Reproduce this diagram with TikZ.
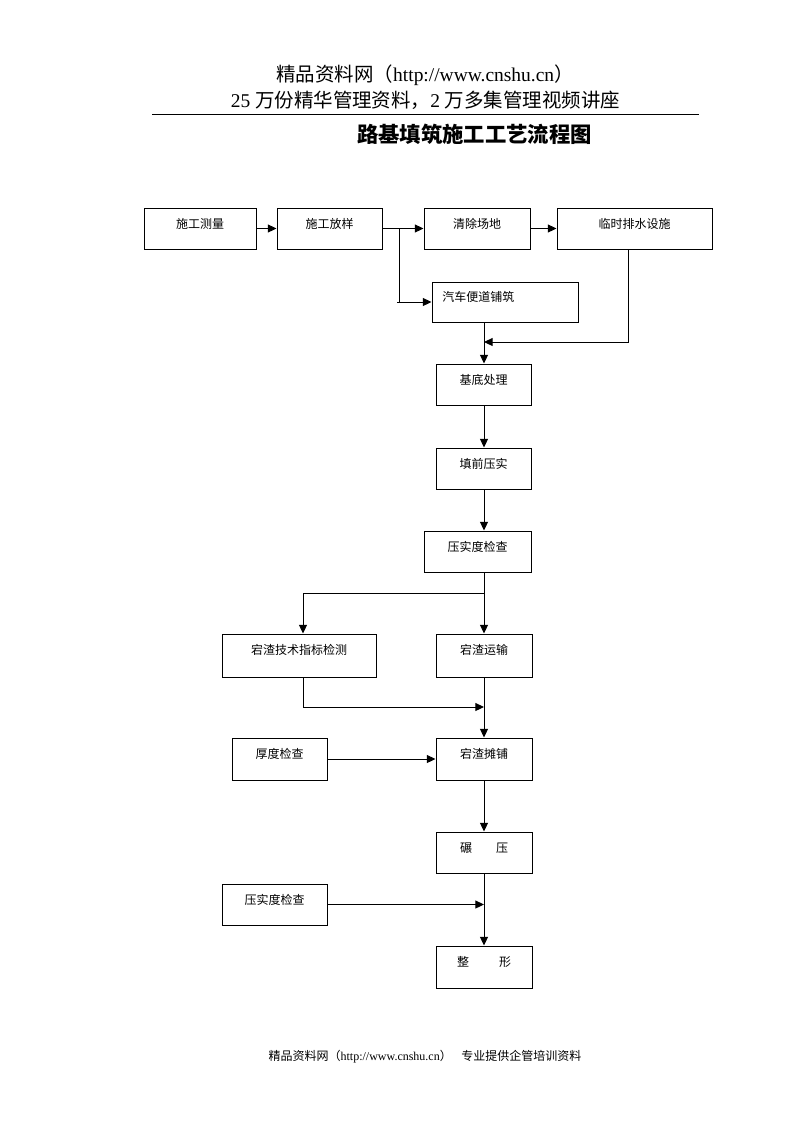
\documentclass[tikz,border=0pt]{standalone}
\usepackage{fontspec}
\setmainfont{Liberation Serif}
\newfontfamily\cjk{Noto Sans CJK SC}
\usetikzlibrary{arrows.meta}
\newcommand\flowbox[6]{%
  \node[box, minimum width={(#4-#2)*0.75pt}, minimum height={(#5-#3)*0.75pt}] (#1) at ({(#2+#4)/2},{(#3+#5)/2}) {};
  \node[lbl] (#1t) at ({(#2+#4)/2},{#3+16}) {#6};}
\begin{document}
\begin{tikzpicture}[x=0.75pt,y=-0.75pt,
  box/.style={draw, line width=0.75pt, inner sep=0pt},
  lbl/.style={font=\cjk\fontsize{9}{10}\selectfont, inner sep=0pt},
  arr/.style={line width=0.75pt, -{Triangle[length=6.5pt,width=6pt]}},
  ln/.style={line width=0.75pt}]
\useasboundingbox (0,0) rectangle (793,1122);

% header
\node[font=\fontsize{14.6}{16}\selectfont, inner sep=0pt] (h1) at (425,75) {{\cjk 精品资料网（}http://www.cnshu.cn{\cjk ）}};
\node[font=\fontsize{14.6}{16}\selectfont, inner sep=0pt] (h2) at (425.5,100) {25 {\cjk 万份精华管理资料，}2 {\cjk 万多集管理视频讲座}};
\coordinate (r1) at (152,114);
\coordinate (r2) at (699,114);
\draw[line width=0.75pt] (r1) -- (r2);
\node[font=\cjk\bfseries\fontsize{16}{18}\selectfont, inner sep=0pt] (title) at (474.5,134) {路基填筑施工工艺流程图};

% boxes
\flowbox{b1}{144}{208}{256}{249}{施工测量}
\flowbox{b2}{277}{208}{382}{249}{施工放样}
\flowbox{b3}{424}{208}{530}{249}{清除场地}
\flowbox{b4}{557}{208}{712}{249}{临时排水设施}
\node[box, minimum width={146*0.75pt}, minimum height={40*0.75pt}] (b5) at (505,302) {};
\node[lbl, anchor=west] (b5t) at (442,297) {汽车便道铺筑};
\flowbox{b6}{436}{364}{531}{405}{基底处理}
\flowbox{b7}{436}{448}{531}{489}{填前压实}
\flowbox{b8}{424}{531}{531}{572}{压实度检查}
\flowbox{b9}{222}{634}{376}{677}{宕渣技术指标检测}
\flowbox{b10}{436}{634}{532}{677}{宕渣运输}
\flowbox{b11}{232}{738}{327}{780}{厚度检查}
\flowbox{b12}{436}{738}{532}{780}{宕渣摊铺}
\flowbox{b13}{436}{832}{532}{873}{碾\hspace{2em}压}
\flowbox{b14}{222}{884}{327}{925}{压实度检查}
\flowbox{b15}{436}{946}{532}{988}{整\hspace{2.5em}形}

% helper coordinates
\coordinate (col) at (484,0);
\coordinate (j1) at (399,228.5);
\coordinate (s1) at (397,302);
\coordinate (d4) at (628,0);
\coordinate (m1) at (484,342);
\coordinate (j2) at (484,593);
\coordinate (d9) at (303,0);
\coordinate (m2) at (484,707);
\coordinate (m3) at (484,904.5);

% connectors
\draw[arr] (b1.east) -- (b2.west);
\draw[arr] (b2.east) -- (b3.west);
\draw[ln] (j1) -- (j1 |- s1);
\draw[arr] (s1) -- (b5.west);
\draw[arr] (b3.east) -- (b4.west);
\draw[arr] (b4.south -| d4) |- (m1);
\draw[arr] (b5.south -| col) -- (b6.north -| col);
\draw[arr] (b6.south -| col) -- (b7.north -| col);
\draw[arr] (b7.south -| col) -- (b8.north -| col);
\draw[arr] (b8.south -| col) -- (b10.north -| col);
\draw[arr] (j2) -| (b9.north -| d9);
\draw[arr] (b9.south -| d9) |- (m2);
\draw[arr] (b10.south -| col) -- (b12.north -| col);
\draw[arr] (b11.east) -- (b12.west);
\draw[arr] (b12.south -| col) -- (b13.north -| col);
\draw[arr] (b13.south -| col) -- (b15.north -| col);
\draw[arr] (b14.east) -- (m3);

% footer
\node[font=\fontsize{9}{11}\selectfont, inner sep=0pt] (foot) at (425,1057) {{\cjk 精品资料网（}http://www.cnshu.cn{\cjk ）\hspace{0.8em}专业提供企管培训资料}};
\end{tikzpicture}
\end{document}
